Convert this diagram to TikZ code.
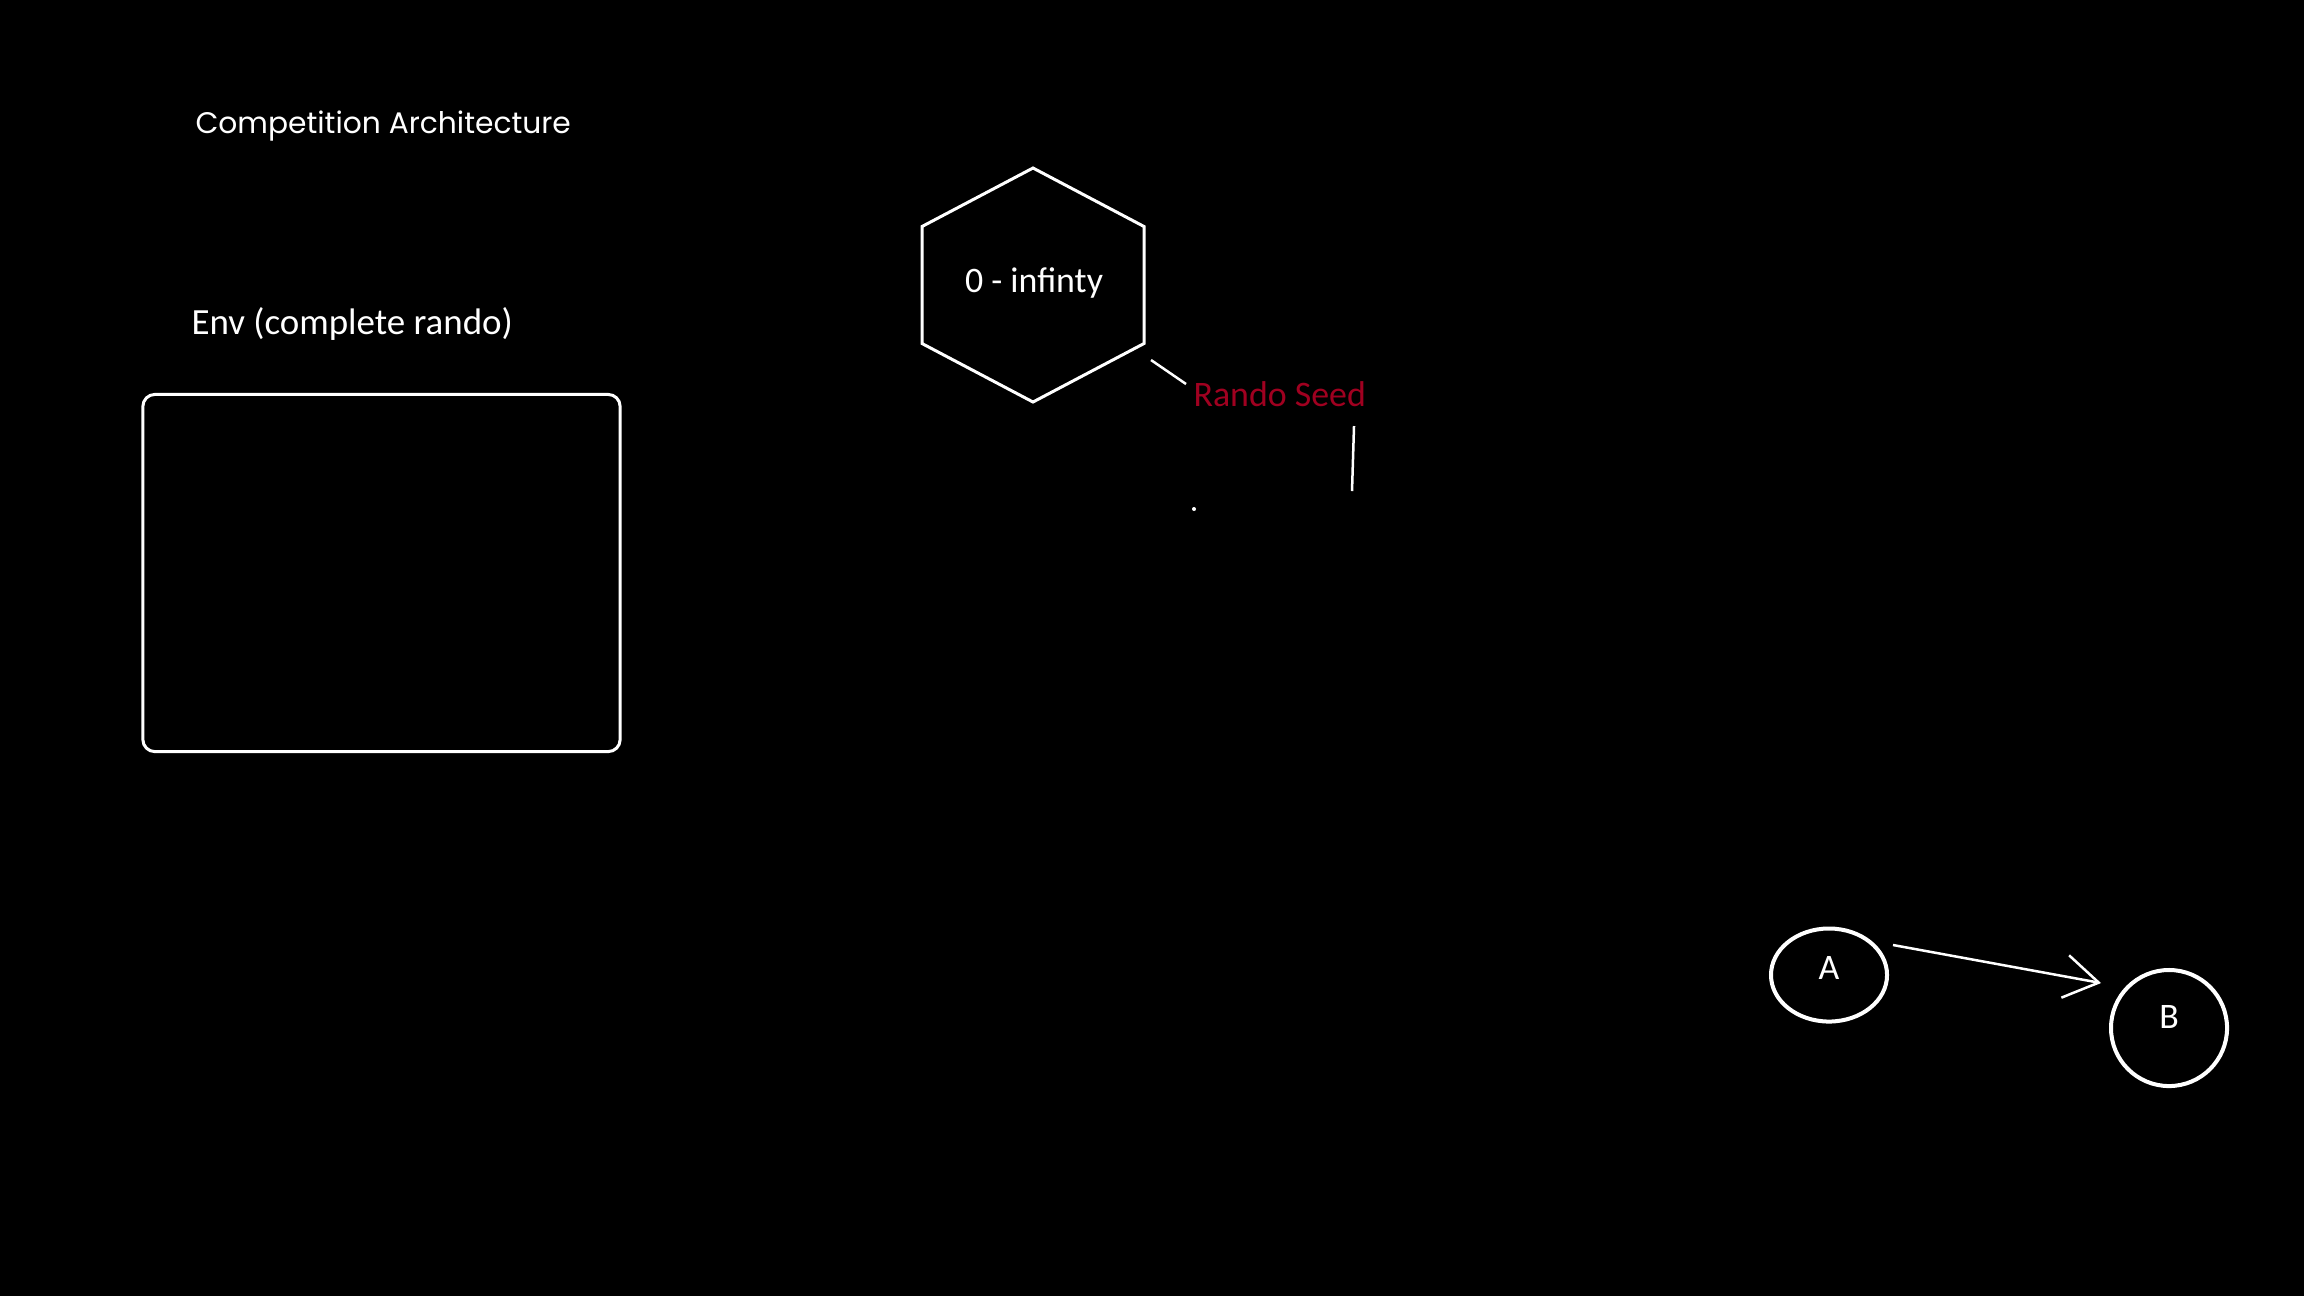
\documentclass[tikz,border=0pt]{standalone}
\usepackage{fontspec}
\setmainfont{Carlito}
\newfontfamily\headfont{Poppins}
\usetikzlibrary{shapes.geometric,arrows.meta}
\definecolor{seedred}{RGB}{160,0,32}

\begin{document}
\begin{tikzpicture}
  [x=0.01cm, y=-0.01cm, white, line width=0.03cm,
   every node/.style={inner sep=0, font=\fontsize{10.2}{12}\selectfont},
   envbox/.style={draw, rounded corners=0.12cm},
   bubble/.style={draw, line width=0.04cm, text height=0.23cm},
   wire/.style={line width=0.025cm}]
  \fill [black] (0,0) rectangle (2304,1296);
  \useasboundingbox (0,0) rectangle (2304,1296);
  \node [name=title, anchor=base west, font=\headfont\fontsize{8.45}{10}\selectfont] at (194,133) {Competition Architecture};
  \node [name=envlabel, anchor=base west, font=\fontsize{10.5}{12}\selectfont] at (190,334) {Env (complete rando)};
  \node [name=env, envbox, minimum width=4.77cm, minimum height=3.57cm] at (381.5,573) {};

  \coordinate (hexc) at (1033,285.5);
  \draw (hexc) ++(0,-117.5) -- ++(111,58.5) -- ++(0,117) -- ++(-111,58.5)
        -- ++(-111,-58.5) -- ++(0,-117) -- cycle;
  \node [name=hex, anchor=base] at (1034,292) {0 - infinty};
  \node [name=seed, anchor=base west, text=seedred] at (1192,406) {Rando Seed};
  \coordinate (hexcorner) at (1144,344);
  \coordinate (seedtail) at (1352,491);
  \coordinate (speck) at (1194,509);
  \path [wire] ([shift={(7,16)}]hexcorner) edge ([shift={(-6,-22)}]seed.base west)
        ([shift={(162,20)}]seed.base west) edge (seedtail);
  \fill (speck) circle [radius=0.02cm];

  \node [name=A, ellipse, bubble, minimum width=1.16cm, minimum height=0.93cm, text depth=0.14cm] at (1829,975) {A};
  \node [name=B, circle, bubble, minimum size=1.16cm, text depth=0.22cm] at (2169,1028) {B};
  \draw [wire, -{Straight Barb[length=0.34cm, width=0.43cm]}]
        ([shift={(64,-30)}]A.center) -- ([shift={(-68,-45)}]B.center);
\end{tikzpicture}
\end{document}
